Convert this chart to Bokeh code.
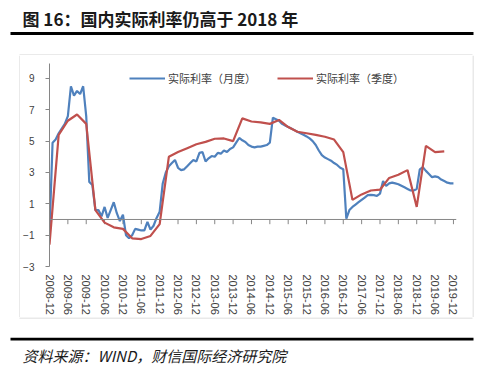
from bokeh.plotting import figure
from bokeh.layouts import column, row
from bokeh.models import (Range1d, FixedTicker, Span, Legend, LegendItem)
from bokeh.core.properties import value
from bokeh.embed import file_html
from bokeh.resources import INLINE

# ---------------- data ----------------
tick_labels = ["2008-12", "2009-06", "2009-12", "2010-06", "2010-12", "2011-06",
               "2011-12", "2012-06", "2012-12", "2013-06", "2013-12", "2014-06",
               "2014-12", "2015-06", "2015-12", "2016-06", "2016-12", "2017-06",
               "2017-12", "2018-06", "2018-12", "2019-06", "2019-12"]

# monthly real rate, 2008-12 .. 2019-12
monthly_rate = [
    -0.8, 4.9, 5.1, 5.5, 5.8, 6.1, 6.6, 8.5, 7.9, 8.2, 8.0, 8.5,
    6.6, 2.4, 2.2, 0.6, 0.6, 0.2, 0.8, 0.1, 0.6, 1.1, 0.4, -0.1,
    0.3, -1.0, -1.2, -1.0, -0.6, -0.65, -0.7, -0.7, -0.15, -0.65, -0.4, 0.1,
    0.5, 2.3, 3.0, 3.4, 3.6, 3.8, 3.3, 3.15, 3.2, 3.4, 3.6, 3.8,
    3.7, 4.25, 4.3, 3.7, 3.9, 4.05, 4.0, 4.25, 4.2, 4.4, 4.3, 4.5,
    4.6, 4.9, 5.2, 5.05, 4.95, 4.75, 4.65, 4.6, 4.65, 4.65, 4.7, 4.75,
    4.9, 6.5, 6.4, 6.3, 6.1, 6.0, 5.9, 5.8, 5.7, 5.6, 5.5, 5.4,
    5.3, 5.17, 5.0, 4.75, 4.4, 4.1, 3.95, 3.85, 3.75, 3.6, 3.48, 3.3,
    3.2, 0.05, 0.6, 0.8, 0.95, 1.1, 1.25, 1.4, 1.55, 1.57, 1.55, 1.5,
    1.65, 2.45, 2.15, 2.3, 2.35, 2.3, 2.25, 2.15, 2.05, 1.95, 1.85, 1.85,
    1.95, 3.2, 3.33, 3.1, 2.9, 2.7, 2.75, 2.7, 2.55, 2.45, 2.35, 2.3,
    2.3]

# quarterly real rate, 2008-12 .. 2019-09
quarterly_rate = [
    -1.6, 5.4, 6.3, 6.7, 6.1, 0.6, -0.2, -0.5, -0.6, -1.2, -1.25, -1.05,
    -0.3, 4.0, 4.3, 4.55, 4.8, 4.95, 5.15, 5.17, 5.0, 6.45, 6.25, 6.2,
    6.1, 6.35, 5.9, 5.6, 5.5, 5.4, 5.28, 5.1, 4.3, 1.25, 1.6, 1.85,
    1.9, 2.65, 2.85, 3.15, 0.8, 4.7, 4.3, 4.35]

y_ticks = [-3, -1, 1, 3, 5, 7, 9]

title_text = "图 16：国内实际利率仍高于 2018 年"
source_text = "资料来源：WIND，财信国际经济研究院"
series_names = ["实际利率（月度）", "实际利率（季度）"]

# month index of each point (0 = 2008-12)
month_idx = list(range(len(monthly_rate)))
quarter_idx = [3 * i for i in range(len(quarterly_rate))]
tick_idx = [6 * i for i in range(len(tick_labels))]

BLUE = "#4f81bd"
RED = "#c0504d"
AXIS = "#868686"
TXT = "#404040"
BOX = "#d4d4d4"
CJK = "Noto Sans CJK SC"


def deco_fig(w, h):
    """Axis-less figure whose data units are pixels (y pointing down), transparent."""
    f = figure(width=w, height=h, output_backend="svg", toolbar_location=None,
               x_range=Range1d(0, w), y_range=Range1d(h, 0),
               x_axis_type=None, y_axis_type=None, frame_align=False,
               min_border=0, min_border_left=0, min_border_right=0,
               min_border_top=0, min_border_bottom=0)
    f.outline_line_color = None
    f.xgrid.visible = False
    f.ygrid.visible = False
    f.background_fill_alpha = 0
    f.border_fill_alpha = 0
    return f


# ---------------- header: title + rule + top edge of chart box ----------------
ft = deco_fig(500, 55)
ft.quad(left=[10], right=[473], top=[31.5], bottom=[34.5],
        fill_color="black", line_color=None)
ft.segment(x0=[19], y0=[54.5], x1=[472], y1=[54.5], line_color=BOX, line_width=1)
ft.text(x=[22], y=[17.5], text=[title_text], text_font=value(CJK),
        text_font_size="17px", text_font_style="bold", text_color="#1a1a1a",
        text_baseline="middle", text_align="left")

# ---------------- side strips: left/right edges of chart box ----------------
sl = deco_fig(20, 262)
sl.segment(x0=[19.5], y0=[0], x1=[19.5], y1=[262], line_color=BOX, line_width=1)
sr = deco_fig(28, 262)
sr.segment(x0=[0.5], y0=[0], x1=[0.5], y1=[262], line_color=BOX, line_width=1)

# ---------------- main chart ----------------
p = figure(width=452, height=262, output_backend="svg", toolbar_location=None,
           x_range=Range1d(0, 133), y_range=Range1d(-3, 9.952),
           min_border_left=28, min_border_right=16,
           min_border_top=8, min_border_bottom=50, frame_align=False)
p.outline_line_color = None
p.xgrid.visible = False
p.ygrid.visible = False
p.background_fill_alpha = 0
p.border_fill_alpha = 0

# y axis
p.yaxis.ticker = FixedTicker(ticks=y_ticks)
p.yaxis.minor_tick_line_color = None
p.yaxis.major_tick_in = 0
p.yaxis.major_tick_out = 4
p.yaxis.axis_line_color = AXIS
p.yaxis.major_tick_line_color = AXIS
p.yaxis.major_label_standoff = 11
p.yaxis.major_label_text_font = "Liberation Sans"
p.yaxis.major_label_text_font_size = "10px"
p.yaxis.major_label_text_color = TXT

# x axis (labels only, at the bottom)
p.xaxis.ticker = FixedTicker(ticks=tick_idx)
p.xaxis.major_label_overrides = {t: lab for t, lab in zip(tick_idx, tick_labels)}
p.xaxis.major_label_orientation = "vertical"
p.xaxis.axis_line_color = None
p.xaxis.major_tick_line_color = None
p.xaxis.minor_tick_line_color = None
p.xaxis.major_tick_in = 0
p.xaxis.major_tick_out = 0
p.xaxis.minor_tick_in = 0
p.xaxis.minor_tick_out = 0
p.xaxis.major_label_standoff = 8
p.xaxis.major_label_text_font = "Liberation Sans"
p.xaxis.major_label_text_font_size = "11px"
p.xaxis.major_label_text_color = TXT

# zero line with its tick marks
p.add_layout(Span(location=0, dimension="width", line_color=AXIS, line_width=1))
p.segment(x0=tick_idx, y0=[0] * len(tick_idx), x1=tick_idx, y1=[-0.3] * len(tick_idx),
          line_color=AXIS, line_width=1)

# series
r_m = p.line(month_idx, monthly_rate, line_color=BLUE, line_width=2.2)
r_q = p.line(quarter_idx, quarterly_rate, line_color=RED, line_width=2.2)

legend = Legend(items=[LegendItem(label=series_names[0], renderers=[r_m]),
                       LegendItem(label=series_names[1], renderers=[r_q])],
                orientation="horizontal", location=(80, 180),
                padding=0, margin=0, spacing=21, label_standoff=3,
                glyph_width=36, glyph_height=14, label_height=14,
                label_text_font=CJK, label_text_font_size="11px",
                label_text_color=TXT, border_line_color=None,
                background_fill_alpha=0)
p.add_layout(legend, "center")

# ---------------- footer: bottom edge of chart box + rule + source ----------------
fb = deco_fig(500, 68)
fb.segment(x0=[19], y0=[0.5], x1=[472], y1=[0.5], line_color=BOX, line_width=1)
fb.quad(left=[10], right=[473], top=[20.3], bottom=[23.0],
        fill_color="black", line_color=None)
fb.text(x=[22], y=[38], text=[source_text], text_font=value(CJK),
        text_font_size="15px", text_font_style="italic", text_color="#1a1a1a",
        text_baseline="middle", text_align="left")

layout = column(ft, row(sl, p, sr, spacing=0), fb, spacing=0)
open("out.html", "w").write(file_html(layout, INLINE))
